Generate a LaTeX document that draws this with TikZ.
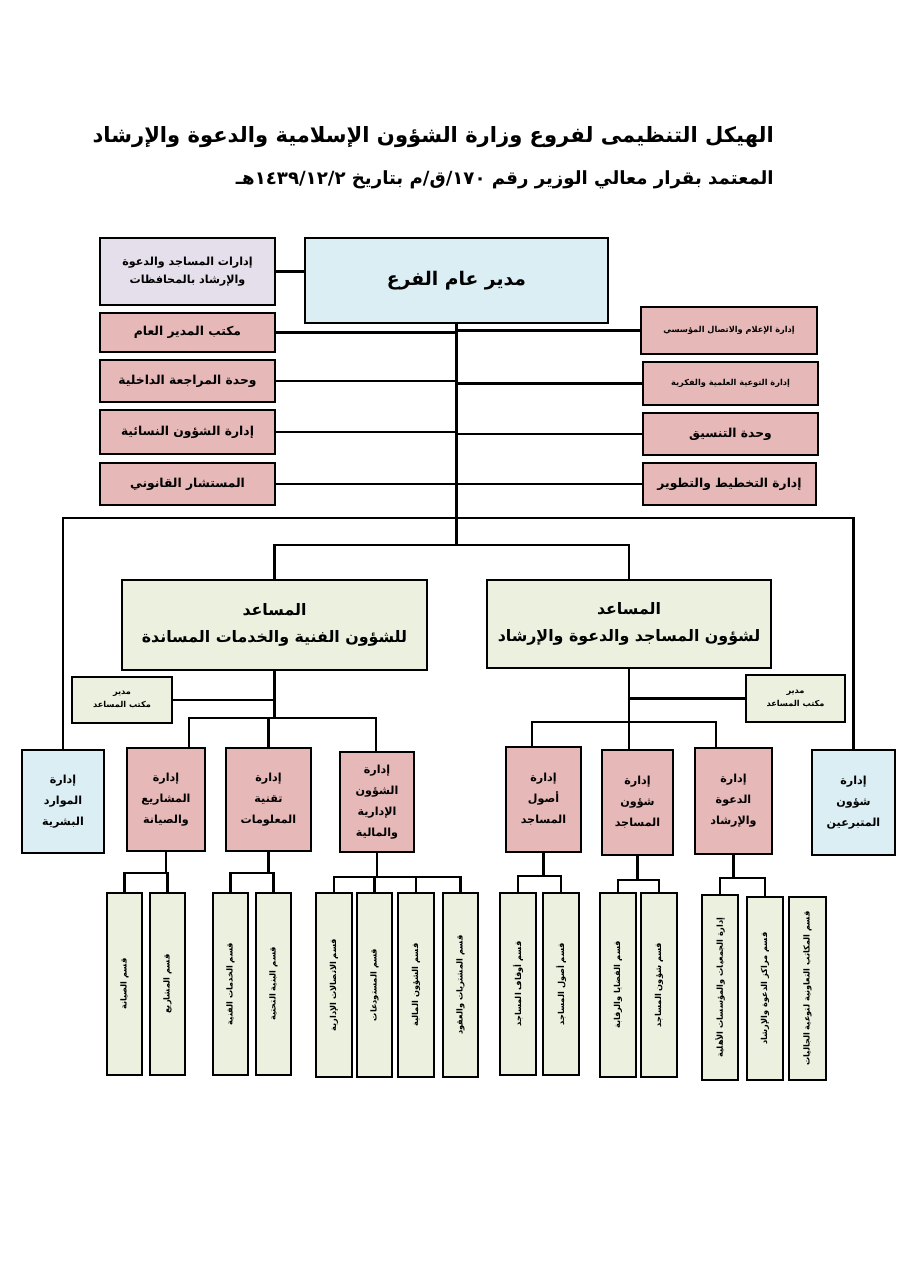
\documentclass[tikz,border=0pt]{standalone}
\usepackage{fontspec}
\newfontfamily\arabicfont[Script=Arabic]{DejaVu Sans}
\TeXXeTstate=1
\newcommand{\ar}[1]{{\arabicfont\bfseries\beginR #1\endR}}
% box from corner (x1,y1) to corner (x2,y2), in pixels of the reference
\newcommand{\bx}[7]{\node[#2, minimum width={(#5-#3)*0.03cm}, minimum height={(#6-#4)*0.03cm}] (#1) at ({(#3+#5)/2},{(#4+#6)/2}) {#7};}
\newcommand{\sbx}[6]{\node[secbox, minimum width={(#4-#2)*0.03cm}, minimum height={(#5-#3)*0.03cm}] (#1) at ({(#2+#4)/2},{(#3+#5)/2}) {};
  \node[rotate=90, font=\fontsize{7}{8}\selectfont] (#1t) at (#1.center) {\ar{#6}};}
\definecolor{pinkfill}{HTML}{E6B8B7}
\definecolor{bluefill}{HTML}{DAEEF3}
\definecolor{purplefill}{HTML}{E5DFEC}
\definecolor{greenfill}{HTML}{EBF1DE}
\tikzset{
  box/.style={draw, line width=2.2pt, inner sep=1pt, align=center},
  gmbox/.style={box, fill=bluefill, font=\fontsize{16}{18}\selectfont},
  pinkbox/.style={box, fill=pinkfill, font=\fontsize{10.5}{12}\selectfont},
  smallpink/.style={box, fill=pinkfill, font=\fontsize{7}{9}\selectfont},
  purplebox/.style={box, fill=purplefill, font=\fontsize{9.5}{16}\selectfont},
  asbox/.style={box, fill=greenfill, font=\fontsize{13.5}{23}\selectfont},
  officebox/.style={box, fill=greenfill, font=\fontsize{7}{11}\selectfont},
  deptbox/.style={box, fill=pinkfill, font=\fontsize{9.5}{18}\selectfont},
  bluebox/.style={box, fill=bluefill, font=\fontsize{9.5}{18}\selectfont},
  secbox/.style={draw, line width=2.2pt, fill=greenfill},
  link/.style={line width=1.8pt},
}
\begin{document}
\begin{tikzpicture}[x=0.03cm, y=-0.03cm]
    \useasboundingbox[fill=white] (0,0) rectangle (918,1280);

    % title
    \node[anchor=east, font=\fontsize{18}{22}\selectfont] (title1) at (778,137) {\ar{الهيكل التنظيمى لفروع وزارة الشؤون الإسلامية والدعوة والإرشاد}};
    \node[anchor=east, font=\fontsize{15.5}{18}\selectfont] (title2) at (778,180) {\ar{المعتمد بقرار معالي الوزير رقم \beginL١٧٠\endL/ق/م بتاريخ \beginL١٤٣٩/١٢/٢\endL{}هـ}};

    % top level
    \bx{gm}{gmbox}{305}{238}{608}{323}{\ar{مدير عام الفرع}}
    \bx{gov}{purplebox}{100}{238}{275}{305}{\ar{إدارات المساجد والدعوة}\\\ar{والإرشاد بالمحافظات}}
    \bx{l1}{pinkbox}{100}{313}{275}{352}{\ar{مكتب المدير العام}}
    \bx{l2}{pinkbox}{100}{360}{275}{402}{\ar{وحدة المراجعة الداخلية}}
    \bx{l3}{pinkbox}{100}{410}{275}{454}{\ar{إدارة الشؤون النسائية}}
    \bx{l4}{pinkbox}{100}{463}{275}{505}{\ar{المستشار القانوني}}
    \bx{r1}{smallpink}{641}{307}{817}{354}{\ar{إدارة الإعلام والاتصال المؤسسي}}
    \bx{r2}{smallpink}{643}{362}{818}{405}{\ar{إدارة التوعية العلمية والفكرية}}
    \bx{r3}{pinkbox}{643}{413}{818}{455}{\ar{وحدة التنسيق}}
    \bx{r4}{pinkbox}{643}{463}{816}{505}{\ar{إدارة التخطيط والتطوير}}

    % assistants
    \bx{asl}{asbox}{122}{580}{427}{670}{\ar{المساعد}\\\ar{للشؤون الفنية والخدمات المساندة}}
    \bx{asr}{asbox}{487}{580}{771}{668}{\ar{المساعد}\\\ar{لشؤون المساجد والدعوة والإرشاد}}
    \bx{ofl}{officebox}{72}{677}{172}{723}{\ar{مدير}\\\ar{مكتب المساعد}}
    \bx{ofr}{officebox}{746}{675}{845}{722}{\ar{مدير}\\\ar{مكتب المساعد}}

    % departments
    \bx{hr}{bluebox}{22}{750}{104}{853}{\ar{إدارة}\\\ar{الموارد}\\\ar{البشرية}}
    \bx{d1}{deptbox}{127}{748}{205}{851}{\ar{إدارة}\\\ar{المشاريع}\\\ar{والصيانة}}
    \bx{d2}{deptbox}{226}{748}{311}{851}{\ar{إدارة}\\\ar{تقنية}\\\ar{المعلومات}}
    \bx{d3}{deptbox}{340}{752}{414}{852}{\ar{إدارة}\\\ar{الشؤون}\\\ar{الإدارية}\\\ar{والمالية}}
    \bx{d4}{deptbox}{506}{747}{581}{852}{\ar{إدارة}\\\ar{أصول}\\\ar{المساجد}}
    \bx{d5}{deptbox}{602}{750}{673}{855}{\ar{إدارة}\\\ar{شؤون}\\\ar{المساجد}}
    \bx{d6}{deptbox}{695}{748}{772}{854}{\ar{إدارة}\\\ar{الدعوة}\\\ar{والإرشاد}}
    \bx{don}{bluebox}{812}{750}{895}{855}{\ar{إدارة}\\\ar{شؤون}\\\ar{المتبرعين}}

    % sections
    \sbx{s1}{107}{893}{142}{1075}{قسم الصيانة}
    \sbx{s2}{150}{893}{185}{1075}{قسم المشاريع}
    \sbx{s3}{213}{893}{248}{1075}{قسم الخدمات الفنية}
    \sbx{s4}{256}{893}{291}{1075}{قسم البنية التحتية}
    \sbx{s5}{316}{893}{352}{1077}{قسم الاتصالات الإدارية}
    \sbx{s6}{357}{893}{392}{1077}{قسم المستودعات}
    \sbx{s7}{398}{893}{434}{1077}{قسم الشؤون المالية}
    \sbx{s8}{443}{893}{478}{1077}{قسم المشتريات والعقود}
    \sbx{s9}{500}{893}{536}{1075}{قسم أوقاف المساجد}
    \sbx{s10}{543}{893}{579}{1075}{قسم أصول المساجد}
    \sbx{s11}{600}{893}{636}{1077}{قسم القضايا والرقابة}
    \sbx{s12}{641}{893}{677}{1077}{قسم شؤون المساجد}
    \sbx{s13}{702}{895}{738}{1080}{إدارة الجمعيات والمؤسسات الأهلية}
    \sbx{s14}{747}{897}{783}{1080}{قسم مراكز الدعوة والإرشاد}
    \sbx{s15}{789}{897}{826}{1080}{قسم المكاتب التعاونية لتوعية الجاليات}

    % connectors, top
    \coordinate (trunk) at (gm.south |- 0,545);
    \draw[link] (gm.south) -- (trunk);
    \draw[link] (gov.east) -- (gov.east -| gm.west);
    \foreach \n in {l1,l2,l3,l4} \draw[link] (\n.east) -- (\n.east -| gm.south);
    \foreach \n in {r1,r2,r3,r4} \draw[link] (\n.west) -- (\n.west -| gm.south);
    \draw[link] (hr.north) -- (hr.north |- 0,518) -| (don.north);
    \draw[link] (asl.north) |- (trunk) -| (asr.north);

    % connectors, assistants
    \coordinate (jl) at (asl.south |- 0,718);
    \draw[link] (asl.south) -- (jl);
    \draw[link] (ofl.east) -- (ofl.east -| asl.south);
    \draw[link] ([xshift=20]d1.north) |- (jl) -| ([xshift=-1]d3.north);
    \draw[link] (d2.north) -- (d2.north |- jl);
    \coordinate (jr) at (asr.south |- 0,722);
    \draw[link] (asr.south) -- (asr.south |- d5.north);
    \draw[link] (ofr.west) -- (ofr.west -| asr.south);
    \draw[link] ([xshift=-10]d4.north) |- (jr) -| ([xshift=-15]d6.north);

    % connectors, sections
    \foreach \d/\a/\b/\y in {d1/s1/s2/873, d2/s3/s4/873, d3/s5/s8/877, d4/s9/s10/876, d5/s11/s12/880, d6/s13/s14/878} {
      \draw[link] (\d.south) -- (\d.south |- 0,\y);
      \draw[link] (\a.north) |- (\a.north |- 0,\y) -| (\b.north);
    }
    \foreach \n in {s6,s7} \draw[link] (\n.north) -- (\n.north |- 0,877);
\end{tikzpicture}
\end{document}
